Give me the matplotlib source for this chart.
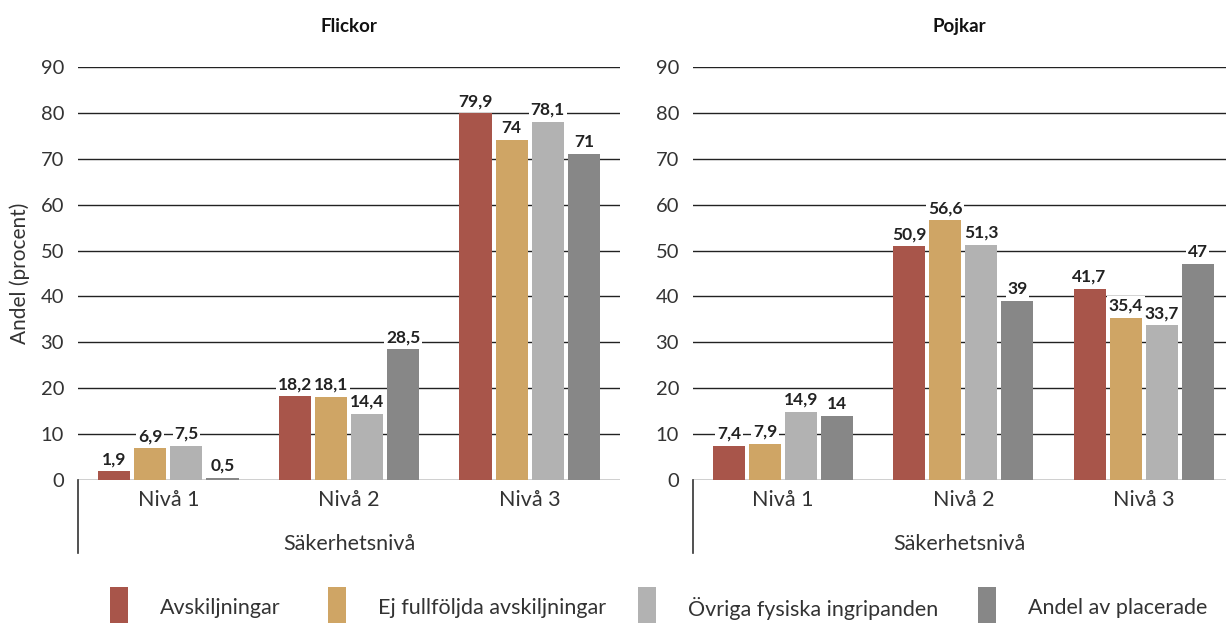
import matplotlib
matplotlib.use("Agg")
import matplotlib.pyplot as plt
from matplotlib.patches import Rectangle
from matplotlib.lines import Line2D

plt.rcParams['font.family'] = ['Lato', 'DejaVu Sans']

categories = ["Nivå 1", "Nivå 2", "Nivå 3"]
series_names = ["Avskiljningar", "Ej fullföljda avskiljningar",
                "Övriga fysiska ingripanden", "Andel av placerade"]
colors = ["#A8554A", "#CFA565", "#B2B2B2", "#878787"]

flickor_avsk = [1.9, 18.2, 79.9]
flickor_ej = [6.9, 18.1, 74]
flickor_ovr = [7.5, 14.4, 78.1]
flickor_andel = [0.5, 28.5, 71]

pojkar_avsk = [7.4, 50.9, 41.7]
pojkar_ej = [7.9, 56.6, 35.4]
pojkar_ovr = [14.9, 51.3, 33.7]
pojkar_andel = [14, 39, 47]

yticks = [0, 10, 20, 30, 40, 50, 60, 70, 80, 90]
panel_titles = ["Flickor", "Pojkar"]
xlabel = "Säkerhetsnivå"
ylabel = "Andel (procent)"

W, H = 1226, 624
fig = plt.figure(figsize=(W / 100, H / 100), dpi=100)

def fx(px):
    return px / W

def fy(py):
    return 1 - py / H

panels = [
    (flickor_avsk, flickor_ej, flickor_ovr, flickor_andel),
    (pojkar_avsk, pojkar_ej, pojkar_ovr, pojkar_andel),
]
axes_px = [(78, 620), (693, 1226)]
xlims = [(-0.5, 2.5), (-0.5, 2.457)]

def fmt(v):
    if float(v).is_integer():
        return str(int(v))
    return f"{v:.1f}".replace(".", ",")

txt = "#333333"
bw = 0.178
step = 0.2
for pi, (data, (x0, x1), xl) in enumerate(zip(panels, axes_px, xlims)):
    ax = fig.add_axes([fx(x0), fy(480), fx(x1 - x0), fy(67) - fy(480)])
    ax.set_xlim(*xl)
    ax.set_ylim(0, 90)
    for sp in ax.spines.values():
        sp.set_visible(False)
    for t in yticks:
        ax.axhline(t, color="#222222" if t > 0 else "#111111", lw=1.0, zorder=0)
    for si, vals in enumerate(data):
        xs = [i + (si - 1.5) * step for i in range(len(categories))]
        ax.bar(xs, vals, width=bw, color=colors[si], zorder=2)
        for x, v in zip(xs, vals):
            ax.text(x, v + 0.9, fmt(v), ha="center", va="bottom", fontsize=12.5,
                    fontweight="bold", color="#222222", zorder=3,
                    bbox=dict(boxstyle="square,pad=0.1", fc="white", ec="none"))
    ax.set_yticks(yticks)
    ax.set_yticklabels([str(t) for t in yticks], fontsize=14.5, color=txt)
    ax.tick_params(axis="y", length=0, pad=10)
    ax.set_xticks(range(len(categories)))
    ax.set_xticklabels(categories, fontsize=15.5, color=txt)
    ax.tick_params(axis="x", length=0, pad=7)
    ax.set_title(panel_titles[pi], fontsize=13.5, fontweight="bold", pad=25, color="#111111")
    ax.text(0.5, -0.155, xlabel, transform=ax.transAxes, ha="center", va="center",
            fontsize=15.5, color=txt)
    if pi == 0:
        ax.set_ylabel(ylabel, fontsize=15, color=txt, labelpad=8)
    fig.add_artist(Line2D([fx(x0), fx(x0)], [fy(480), fy(553)], color="#333333", lw=1.2))

leg_x = [110, 328, 638, 978]
for x, c, name in zip(leg_x, colors, series_names):
    fig.add_artist(Rectangle((fx(x), fy(623)), fx(18), fy(587) - fy(623),
                             facecolor=c, edgecolor="none"))
    fig.text(fx(x + 50), fy(608), name, ha="left", va="center", fontsize=15.5, color=txt)

fig.savefig("out.png", dpi=100)
